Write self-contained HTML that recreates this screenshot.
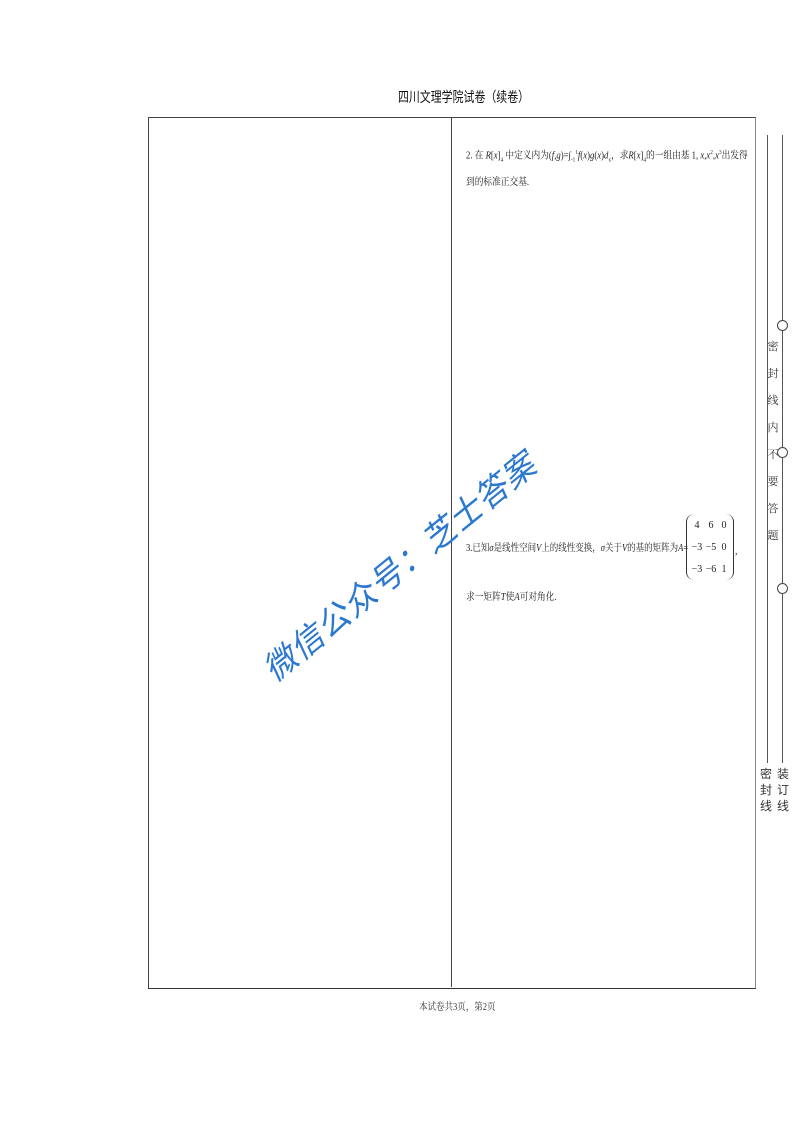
<!DOCTYPE html>
<html><head><meta charset="utf-8"><style>
*{margin:0;padding:0}
body{width:793px;height:1122px;background:#fff;position:relative;overflow:hidden;font-family:"Liberation Serif","Noto Serif CJK SC",serif;color:#222}
.a{position:absolute}
.t{font-size:10px;white-space:nowrap;line-height:12px;transform:scaleX(0.87);transform-origin:left}
i{font-style:italic}
</style></head><body>
<div class="a" style="left:398px;top:87px;font-family:'Liberation Sans','Noto Sans CJK SC',sans-serif;font-size:14px;transform:scaleX(0.78);transform-origin:left;white-space:nowrap;color:#111">四川文理学院试卷（续卷）</div>
<div class="a" style="left:148px;top:117px;width:606px;height:870px;border-top:1.5px solid #444;border-bottom:1.5px solid #333;border-left:1px solid #444;border-right:1.5px solid #888"></div>
<div class="a" style="left:451px;top:118px;width:1px;height:869px;background:#444"></div>

<div class="a t" style="left:466px;top:147px">2. 在 <i>R</i>[<i>x</i>]<sub style="font-size:6px">4</sub> 中定义内为(<i>f</i>,<i>g</i>)=∫<sub style="font-size:6px">-1</sub><sup style="font-size:6px">1</sup><i>f</i>(<i>x</i>)<i>g</i>(<i>x</i>)<i>d</i><sub style="font-size:6px">x</sub>，求<i>R</i>[<i>x</i>]<sub style="font-size:6px">4</sub>的一组由基 1, <i>x</i>,<i>x</i><sup style="font-size:6px">2</sup>,<i>x</i><sup style="font-size:6px">3</sup>出发得</div>
<div class="a t" style="left:466px;top:177px">到的标准正交基.</div>

<div class="a t" style="left:466px;top:543px;transform:scaleX(0.85)">3.已知<i>σ</i>是线性空间<i>V</i>上的线性变换，<i>σ</i>关于<i>V</i>的基的矩阵为<i>A</i>=</div>
<div class="a" style="left:686px;top:514px;width:46px;height:66px;border-left:1px solid #333;border-right:1px solid #333;border-radius:8px"></div>
<div class="a" style="left:690px;top:515px;line-height:22px;font-size:10px;white-space:nowrap">
<div style="display:flex"><span style="width:14px;text-align:center">4</span><span style="width:14px;text-align:center">6</span><span style="width:12px;text-align:center">0</span></div>
<div style="display:flex"><span style="width:14px;text-align:center">−3</span><span style="width:14px;text-align:center">−5</span><span style="width:12px;text-align:center">0</span></div>
<div style="display:flex"><span style="width:14px;text-align:center">−3</span><span style="width:14px;text-align:center">−6</span><span style="width:12px;text-align:center">1</span></div>
</div>
<div class="a" style="left:735px;top:546px;font-size:10px">,</div>
<div class="a t" style="left:466px;top:592px">求一矩阵<i>T</i>使<i>A</i>可对角化.</div>

<div class="a" style="left:228px;top:545px;width:340px;text-align:center;transform:rotate(-39deg);transform-origin:center;font-family:'Noto Sans CJK SC',sans-serif;font-style:italic;font-size:33px;letter-spacing:1px;color:#2a78d0;white-space:nowrap;line-height:40px">微信公众号：芝士答案</div>

<div class="a" style="left:767px;top:135px;width:1px;height:628px;background:#555"></div>
<div class="a" style="left:782px;top:135px;width:1px;height:628px;background:#555"></div>
<div class="a" style="left:777px;top:320px;width:9px;height:9px;border:1px solid #444;border-radius:50%;background:#fff"></div>
<div class="a" style="left:777px;top:447px;width:9px;height:9px;border:1px solid #444;border-radius:50%;background:#fff"></div>
<div class="a" style="left:777px;top:583px;width:9px;height:9px;border:1px solid #444;border-radius:50%;background:#fff"></div>
<div class="a" style="left:766px;top:333px;width:14px;font-size:11px;line-height:27px;text-align:center;color:#333;font-family:'Noto Serif CJK SC',serif">密<br>封<br>线<br>内<br>不<br>要<br>答<br>题</div>
<div class="a" style="left:760px;top:766px;width:14px;font-size:12px;line-height:16px;color:#333;font-family:'Noto Sans CJK SC',sans-serif">密<br>封<br>线</div>
<div class="a" style="left:777px;top:766px;width:14px;font-size:12px;line-height:16px;color:#333;font-family:'Noto Sans CJK SC',sans-serif">装<br>订<br>线</div>

<div class="a" style="left:419px;top:998px;font-size:10px;white-space:nowrap;transform:scaleX(0.85);transform-origin:left;color:#333">本试卷共3页，第2页</div>
</body></html>
